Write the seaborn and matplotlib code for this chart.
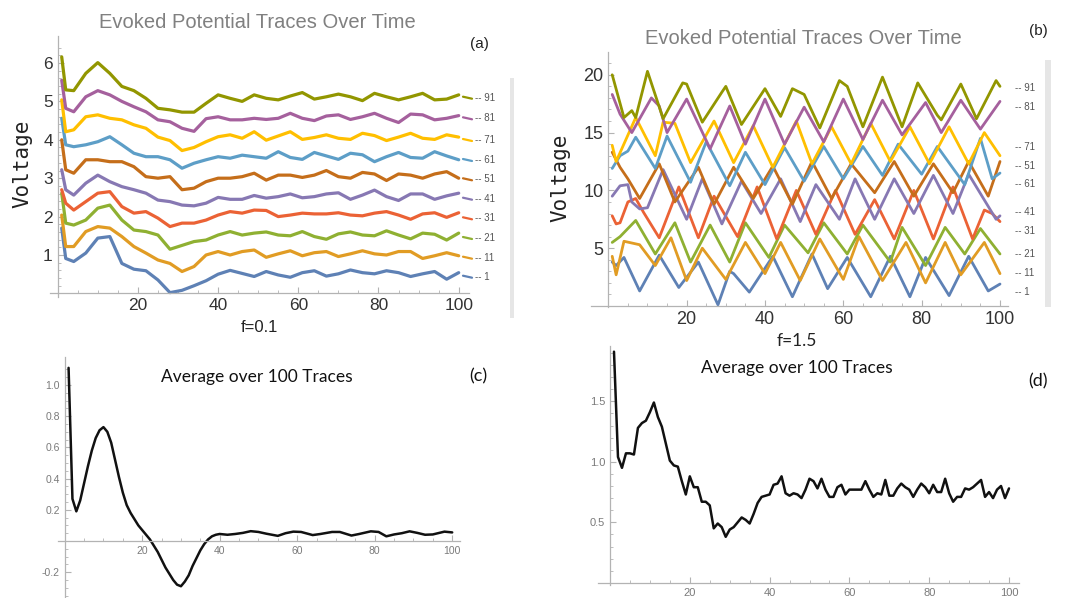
"""
Evoked potential traces (f=0.1 and f=1.5) with their averages over 100 traces
"""

import pandas as pd
import matplotlib.pyplot as plt
from matplotlib.lines import Line2D
from matplotlib.patches import Rectangle
import seaborn as sns

# ---- data ----
trace_ids = ["1", "11", "21", "31", "41", "51", "61", "71", "81", "91"]
trace_colors = ["#5E81B5", "#E19C24", "#8FB032", "#EB6235", "#8778B3",
                "#C56E1A", "#5D9EC7", "#FFBF00", "#A5609D", "#929600"]

# panel (a), f=0.1: all traces sampled at the same times
t_a = [1, 2] + list(range(4, 101, 3))
v_a_1 = [1.7, 0.91, 0.83, 1.05, 1.44, 1.48, 0.78, 0.63, 0.59, 0.35, 0.02, 0.08, 0.2, 0.33, 0.5, 0.6, 0.52, 0.44,
         0.57, 0.48, 0.42, 0.54, 0.59, 0.45, 0.51, 0.61, 0.54, 0.51, 0.59, 0.54, 0.44, 0.51, 0.57, 0.37, 0.54]
v_a_11 = [2.04, 1.22, 1.22, 1.61, 1.74, 1.7, 1.48, 1.22, 1.05, 0.87, 0.78, 0.57, 0.7, 1.0, 1.09, 1.0, 1.09, 1.13,
          0.94, 1.03, 1.11, 0.98, 1.06, 1.09, 0.96, 1.03, 1.11, 1.03, 1.0, 1.09, 1.09, 0.91, 0.98, 1.06, 0.98]
v_a_21 = [2.61, 1.83, 1.78, 1.91, 2.22, 2.3, 1.91, 1.65, 1.61, 1.52, 1.15, 1.25, 1.35, 1.39, 1.52, 1.61, 1.52, 1.57,
          1.6, 1.52, 1.5, 1.61, 1.48, 1.41, 1.55, 1.6, 1.52, 1.5, 1.63, 1.52, 1.42, 1.57, 1.54, 1.39, 1.57]
v_a_31 = [2.7, 2.35, 2.17, 2.39, 2.61, 2.65, 2.26, 2.09, 2.13, 1.96, 1.74, 1.83, 1.83, 1.91, 2.04, 2.13, 2.09, 2.17,
          2.16, 2.0, 2.04, 2.09, 2.07, 2.07, 2.1, 2.04, 2.02, 2.09, 2.13, 2.04, 1.93, 2.07, 2.1, 1.98, 2.1]
v_a_41 = [3.22, 2.7, 2.56, 2.87, 3.08, 2.91, 2.78, 2.7, 2.61, 2.43, 2.39, 2.3, 2.28, 2.35, 2.5, 2.45, 2.45, 2.55,
          2.48, 2.52, 2.59, 2.49, 2.52, 2.59, 2.62, 2.45, 2.56, 2.69, 2.52, 2.42, 2.59, 2.59, 2.45, 2.54, 2.61]
v_a_51 = [4.0, 3.22, 3.13, 3.48, 3.48, 3.43, 3.43, 3.3, 3.04, 3.0, 3.04, 2.7, 2.74, 2.91, 3.0, 3.0, 3.04, 3.13,
          2.95, 3.08, 3.08, 3.02, 3.08, 3.2, 3.04, 3.0, 3.15, 3.11, 2.94, 3.11, 3.08, 3.0, 3.11, 3.17, 3.0]
v_a_61 = [4.56, 3.87, 3.82, 3.87, 3.95, 4.08, 3.87, 3.65, 3.56, 3.56, 3.48, 3.26, 3.39, 3.48, 3.56, 3.52, 3.6, 3.56,
          3.52, 3.69, 3.54, 3.49, 3.67, 3.58, 3.49, 3.65, 3.61, 3.43, 3.56, 3.67, 3.54, 3.52, 3.69, 3.58, 3.48]
v_a_71 = [5.04, 4.21, 4.26, 4.6, 4.65, 4.56, 4.52, 4.39, 4.3, 4.07, 3.98, 3.72, 3.8, 3.95, 4.08, 4.13, 4.04, 4.21,
          3.99, 4.1, 4.21, 4.01, 4.06, 4.13, 4.04, 4.01, 4.17, 4.11, 3.98, 4.07, 4.17, 4.04, 4.01, 4.13, 4.07]
v_a_81 = [5.55, 4.82, 4.73, 5.12, 5.28, 5.17, 5.0, 4.86, 4.73, 4.52, 4.47, 4.3, 4.22, 4.55, 4.6, 4.52, 4.52, 4.56,
          4.53, 4.56, 4.69, 4.56, 4.5, 4.62, 4.65, 4.53, 4.6, 4.69, 4.56, 4.45, 4.67, 4.65, 4.52, 4.56, 4.63]
v_a_91 = [6.16, 5.3, 5.28, 5.73, 6.01, 5.73, 5.39, 5.28, 5.08, 4.82, 4.78, 4.72, 4.72, 4.95, 5.17, 5.08, 5.0, 5.17,
          5.08, 5.04, 5.14, 5.23, 5.06, 5.12, 5.19, 5.12, 5.02, 5.21, 5.12, 5.04, 5.12, 5.21, 5.04, 5.06, 5.17]
traces_a = [v_a_1, v_a_11, v_a_21, v_a_31, v_a_41, v_a_51, v_a_61, v_a_71, v_a_81, v_a_91]

# panel (b), f=1.5: turning points of each zig-zag trace
t_b_1 = [1, 2, 4, 8, 13, 18, 23, 28, 31, 32, 36, 42, 47, 52, 56, 61, 67, 72, 77, 81, 87, 92, 97, 100]
v_b_1 = [3.8, 3.5, 4.2, 1.3, 4.4, 1.6, 3.8, 0.1, 3.0, 2.8, 1.2, 4.3, 0.8, 4.5, 1.5, 4.2, 0.8, 4.3, 0.8, 4.2, 0.9, 4.3, 1.3, 1.9]
t_b_11 = [1, 2, 4, 8, 12, 16, 20, 24, 30, 35, 40, 44, 49, 54, 60, 64, 70, 76, 81, 86, 90, 96, 100]
v_b_11 = [4.3, 2.7, 5.6, 5.3, 3.5, 5.9, 2.2, 5.0, 2.3, 5.5, 2.8, 5.5, 2.2, 5.8, 2.3, 6.0, 2.2, 5.5, 2.0, 5.5, 2.7, 5.5, 2.8]
t_b_21 = [1, 3, 7, 12, 17, 21, 26, 31, 35, 41, 45, 51, 55, 61, 65, 72, 75, 81, 86, 91, 95, 100]
v_b_21 = [5.5, 6.0, 7.4, 4.5, 7.2, 3.8, 7.0, 3.8, 7.2, 4.2, 7.0, 4.6, 7.2, 4.5, 7.0, 3.8, 6.8, 3.5, 6.8, 4.5, 6.7, 4.5]
t_b_31 = [1, 2, 3, 5, 7, 9, 11, 13, 18, 23, 27, 33, 38, 43, 48, 53, 58, 63, 68, 73, 78, 83, 88, 93, 96, 98, 100]
v_b_31 = [7.8, 7.1, 7.2, 9.0, 9.3, 8.1, 7.0, 5.9, 10.3, 5.9, 9.5, 6.0, 10.3, 5.8, 10.0, 6.2, 10.0, 6.2, 9.2, 5.8,
          10.0, 5.8, 10.3, 5.8, 8.3, 8.0, 7.3]
t_b_41 = [1, 3, 5, 6, 8, 10, 14, 20, 24, 29, 34, 39, 44, 49, 53, 59, 63, 68, 73, 78, 83, 88, 92, 99, 100]
v_b_41 = [9.5, 10.4, 10.5, 9.0, 8.4, 8.5, 11.8, 7.5, 11.0, 7.1, 10.8, 8.0, 11.0, 7.3, 10.5, 7.5, 11.0, 7.5, 11.0,
          8.0, 11.3, 8.0, 11.4, 7.5, 7.8]
t_b_51 = [1, 3, 5, 8, 13, 17, 23, 27, 32, 37, 42, 47, 52, 57, 62, 68, 73, 78, 83, 88, 92, 97, 100]
v_b_51 = [13.3, 12.0, 11.0, 9.3, 12.3, 9.0, 12.0, 8.8, 12.0, 9.3, 12.1, 8.8, 12.5, 9.3, 12.3, 9.8, 12.5, 9.5, 12.3,
          9.8, 12.5, 9.5, 12.5]
t_b_61 = [1, 3, 5, 7, 12, 15, 21, 25, 31, 35, 40, 45, 50, 55, 60, 65, 70, 74, 80, 84, 91, 95, 98, 100]
v_b_61 = [11.9, 13.0, 13.4, 14.6, 11.9, 14.7, 10.7, 14.2, 10.4, 13.3, 10.5, 13.7, 10.8, 13.8, 11.0, 13.8, 11.3,
          14.0, 11.4, 13.8, 10.5, 14.5, 11.0, 11.5]
t_b_71 = [1, 2, 7, 12, 14, 17, 21, 27, 32, 37, 42, 48, 52, 57, 62, 67, 72, 77, 82, 87, 92, 96, 100]
v_b_71 = [13.9, 12.5, 16.3, 13.0, 15.9, 15.8, 12.4, 16.0, 12.4, 15.6, 12.0, 16.0, 12.3, 15.5, 12.3, 15.8, 12.5,
          15.5, 12.3, 15.5, 12.3, 15.0, 13.0]
t_b_81 = [1, 3, 6, 11, 13, 15, 20, 26, 31, 35, 40, 45, 50, 55, 60, 65, 70, 75, 81, 85, 90, 95, 100]
v_b_81 = [18.3, 16.6, 15.0, 18.0, 17.3, 15.0, 17.9, 13.6, 17.3, 14.0, 17.9, 14.0, 17.2, 14.2, 17.9, 14.4, 17.8,
          14.8, 17.6, 15.0, 17.8, 15.3, 17.7]
t_b_91 = [1, 4, 6, 7, 10, 14, 19, 20, 24, 29, 30, 34, 40, 44, 47, 50, 54, 59, 61, 65, 70, 75, 79, 84, 85, 90,
          94, 99, 100]
v_b_91 = [20.0, 16.3, 16.9, 16.3, 20.3, 16.2, 19.3, 19.2, 15.9, 18.5, 19.0, 15.7, 18.8, 16.4, 18.8, 18.3, 15.4,
          19.5, 19.0, 15.5, 19.8, 15.5, 19.3, 16.5, 16.1, 19.2, 16.2, 19.5, 19.0]
traces_b = [(t_b_1, v_b_1), (t_b_11, v_b_11), (t_b_21, v_b_21), (t_b_31, v_b_31), (t_b_41, v_b_41),
            (t_b_51, v_b_51), (t_b_61, v_b_61), (t_b_71, v_b_71), (t_b_81, v_b_81), (t_b_91, v_b_91)]

# panel (c): average, f=0.1
t_c = list(range(1, 41)) + [42, 44, 46, 48, 50, 52, 55, 57, 59, 61, 64, 66, 69, 71, 74, 76, 79, 81, 83, 85,
                            87, 89, 91, 93, 95, 98, 100]
v_c = [1.11, 0.27, 0.19, 0.26, 0.37, 0.48, 0.58, 0.66, 0.71, 0.73,
       0.70, 0.63, 0.52, 0.41, 0.31, 0.23, 0.18, 0.14, 0.10, 0.07,
       0.04, 0.01, -0.03, -0.07, -0.12, -0.17, -0.21, -0.25, -0.28, -0.29,
       -0.26, -0.22, -0.16, -0.11, -0.06, -0.02, 0.01, 0.03, 0.04, 0.045,
       0.04, 0.045, 0.052, 0.063, 0.058, 0.047, 0.033, 0.05, 0.06, 0.058,
       0.038, 0.045, 0.058, 0.058, 0.035, 0.045, 0.062, 0.058, 0.03, 0.042,
       0.05, 0.062, 0.052, 0.04, 0.042, 0.06, 0.055]

# panel (d): average, f=1.5
t_d = list(range(1, 101))
v_d = [1.91, 1.04, 0.95, 1.07, 1.07, 1.06, 1.28, 1.32, 1.34, 1.41,
       1.49, 1.37, 1.29, 1.15, 1.01, 0.97, 0.96, 0.84, 0.73, 0.88,
       0.79, 0.79, 0.67, 0.67, 0.64, 0.45, 0.49, 0.46, 0.38, 0.44,
       0.46, 0.50, 0.54, 0.52, 0.49, 0.57, 0.66, 0.71, 0.72, 0.73,
       0.81, 0.82, 0.88, 0.74, 0.72, 0.74, 0.73, 0.70, 0.77, 0.86,
       0.84, 0.78, 0.86, 0.77, 0.71, 0.71, 0.79, 0.81, 0.73, 0.77,
       0.77, 0.77, 0.77, 0.84, 0.77, 0.71, 0.74, 0.73, 0.85, 0.72,
       0.72, 0.78, 0.82, 0.79, 0.77, 0.71, 0.77, 0.82, 0.79, 0.74,
       0.81, 0.75, 0.75, 0.86, 0.74, 0.67, 0.71, 0.71, 0.78, 0.77,
       0.79, 0.82, 0.85, 0.71, 0.75, 0.70, 0.77, 0.80, 0.70, 0.78]

# legend order on the right of (a) and (b), top to bottom
legend_a = ["91", "81", "71", "61", "51", "41", "31", "21", "11", "1"]
legend_b = ["91", "81", "71", "51", "61", "41", "31", "21", "11", "1"]

# ---- long-form tables ----
df_a = pd.DataFrame([(tid, t, v) for tid, vals in zip(trace_ids, traces_a) for t, v in zip(t_a, vals)],
                    columns=["trace", "t", "v"])
df_b = pd.DataFrame([(tid, t, v) for tid, (ts, vs) in zip(trace_ids, traces_b) for t, v in zip(ts, vs)],
                    columns=["trace", "t", "v"])
df_c = pd.DataFrame({"t": t_c, "v": v_c})
df_d = pd.DataFrame({"t": t_d, "v": v_d})

sns.set_style("white")
plt.rcParams["font.family"] = ["Liberation Sans", "DejaVu Sans"]

W, H = 1067, 598
fig = plt.figure(figsize=(W / 100, H / 100), dpi=100)
palette = dict(zip(trace_ids, trace_colors))


def add_panel(x0, xs, y0, ys, xlim, ylim):
    # x0/y0: pixel position of the data origin, xs/ys: pixels per data unit
    left, right = x0 + xs * xlim[0], x0 + xs * xlim[1]
    bottom, top = y0 - ys * ylim[0], y0 - ys * ylim[1]
    ax = fig.add_axes([left / W, 1 - bottom / H, (right - left) / W, (bottom - top) / H])
    ax.set_xlim(xlim)
    ax.set_ylim(ylim)
    return ax


def mma_axes(ax, xmaj, xmin, ymaj, ymin, size, color):
    for s in ["top", "right"]:
        ax.spines[s].set_visible(False)
    for s in ["left", "bottom"]:
        ax.spines[s].set_position(("data", 0))
        ax.spines[s].set_color("#b3b3b3")
        ax.spines[s].set_linewidth(0.9)
    ax.set_xticks(xmaj)
    ax.set_xticks(xmin, minor=True)
    ax.set_yticks(ymaj)
    ax.set_yticks(ymin, minor=True)
    ax.tick_params(which="both", direction="in", bottom=True, left=True, color="#b3b3b3",
                   labelsize=size, labelcolor=color)
    ax.tick_params(which="major", length=4, width=0.8)
    ax.tick_params(which="minor", length=2.2, width=0.6)
    ax.set_xlabel("")
    ax.set_ylabel("")
    ax.patch.set_alpha(0)


def ftext(px, py, s, **kw):
    fig.text(px / W, 1 - py / H, s, ha=kw.pop("ha", "center"), va=kw.pop("va", "center"), **kw)


xt = [20, 40, 60, 80, 100]
xminor = [m for m in range(5, 101, 5) if m % 20]

# (a)
ax_a = add_panel(57.7, 4.01, 293.4, 38.4, (-2, 102.5), (-0.1, 6.7))
sns.lineplot(data=df_a, x="t", y="v", hue="trace", hue_order=trace_ids, palette=palette,
             estimator=None, legend=False, linewidth=2.3, ax=ax_a)
mma_axes(ax_a, xt, xminor, [1, 2, 3, 4, 5, 6], [m / 5 for m in range(1, 33) if m % 5],
         12.5, "#333333")

# (b)
ax_b = add_panel(608.3, 3.917, 306, 11.56, (-4.5, 102), (-0.1, 22))
sns.lineplot(data=df_b, x="t", y="v", hue="trace", hue_order=trace_ids, palette=palette,
             estimator=None, legend=False, linewidth=2.0, sort=False, ax=ax_b)
mma_axes(ax_b, xt, xminor, [5, 10, 15, 20], [m for m in range(1, 22) if m % 5],
         13, "#333333")

# (c)
ax_c = add_panel(64.7, 3.875, 541, 156, (-1.7, 102), (-0.37, 1.18))
sns.lineplot(data=df_c, x="t", y="v", color="#111111", linewidth=1.8, ax=ax_c)
mma_axes(ax_c, xt, xminor, [-0.2, 0.2, 0.4, 0.6, 0.8, 1.0],
         [m / 20 for m in range(-7, 23) if m % 4], 7.5, "#7a7a7a")
ax_c.set_yticklabels(["-0.2", "0.2", "0.4", "0.6", "0.8", "1.0"])

# (d)
ax_d = add_panel(610, 3.99, 582.8, 121, (-3, 102.5), (-0.02, 1.96))
sns.lineplot(data=df_d, x="t", y="v", color="#111111", linewidth=1.8, ax=ax_d)
mma_axes(ax_d, xt, xminor, [0.5, 1.0, 1.5], [m / 10 for m in range(1, 20) if m % 5],
         8, "#7a7a7a")
ax_d.set_yticklabels(["0.5", "1.0", "1.5"])

# titles and labels
ftext(257, 23, "Evoked Potential Traces Over Time", fontsize=14.5, color="#808080")
ftext(803, 38, "Evoked Potential Traces Over Time", fontsize=14.5, color="#808080")
ftext(22, 164, "Voltage", rotation=90, fontsize=15, family="DejaVu Sans Mono", color="#222222")
ftext(560, 178, "Voltage", rotation=90, fontsize=15, family="DejaVu Sans Mono", color="#222222")
ftext(479, 44, "(a)", fontsize=11, color="#222222")
ftext(1038, 31, "(b)", fontsize=11, color="#222222")
ftext(259, 327, "f=0.1", fontsize=12, color="#222222")
ftext(797, 341, "f=1.5", fontsize=12.5, family="Lato", color="#222222")
ftext(257, 377, "Average over 100 Traces", fontsize=12.5, family="Lato", color="#111111")
ftext(797, 368, "Average over 100 Traces", fontsize=12.5, family="Lato", color="#111111")
ftext(478, 376, "(c)", fontsize=13, family="Lato", color="#111111")
ftext(1038, 381, "(d)", fontsize=13, family="Lato", color="#111111")

# right-hand trace labels
rows_a = [97.7, 118.3, 140, 160, 179.3, 198.7, 218.3, 238, 257.7, 276.7]
rows_b = [88, 107, 147, 166, 184, 212, 231, 254, 273, 292]
for lab, py in zip(legend_a, rows_a):
    ftext(475, py, "-- " + lab, ha="left", fontsize=7, color="#555555")
    fig.add_artist(Line2D([463 / W, 472 / W], [1 - (py - 1) / H, 1 - (py + 1) / H],
                          color=palette[lab], linewidth=1.6))
for lab, py in zip(legend_b, rows_b):
    ftext(1015, py, "-- " + lab, ha="left", fontsize=7, color="#555555")

fig.add_artist(Rectangle((510 / W, 1 - 318 / H), 4 / W, 240 / H, color="#e6e6e6", lw=0))
fig.add_artist(Rectangle((1045 / W, 1 - 307 / H), 6 / W, 247 / H, color="#e6e6e6", lw=0))

plt.savefig("out.png", dpi=100)
